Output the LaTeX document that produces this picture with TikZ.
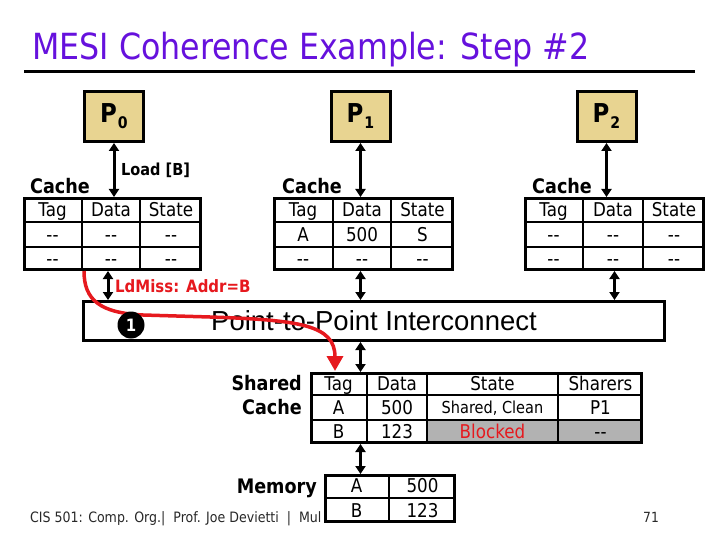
\documentclass[tikz,border=0pt]{standalone}
\usepackage{fontspec}
\setmainfont{DejaVu Sans}[FakeStretch=0.88]
\newfontfamily\arialfont{Liberation Sans}
\usetikzlibrary{arrows.meta,calc}
\definecolor{titlepurple}{RGB}{102,17,221}
\definecolor{ptan}{RGB}{232,212,145}
\definecolor{cellgray}{RGB}{178,178,178}
\definecolor{missred}{RGB}{230,25,30}
\definecolor{footgray}{RGB}{40,40,40}
\newcommand\fs[1]{\fontsize{#1}{#1}\selectfont}
\tikzset{
  procbox/.style={draw, line width=3pt, fill=ptan, minimum width=59pt, minimum height=50pt, inner sep=0pt},
  tblbox/.style={draw, line width=3pt, inner sep=0pt},
  gridline/.style={line width=2pt},
  cell/.style={anchor=base, inner sep=0pt, font=\fs{19}},
  boldlbl/.style={inner sep=0pt, font=\fs{20}\bfseries},
  dbl/.style={line width=3pt, {Triangle[width=10pt,length=8pt]}-{Triangle[width=10pt,length=8pt]}},
  missarrow/.style={line width=3.5pt, draw=missred, -{Triangle[width=16pt,length=15pt]}},
}
\begin{document}
\begin{tikzpicture}[x=1pt,y=-1pt]
\useasboundingbox[fill=white] (0,0) rectangle (720,540);

% title
\node[anchor=base west, inner sep=0pt, text=titlepurple, font=\fs{36}] (title) at (32,60) {MESI Coherence Example: Step \#2};
\draw[line width=3pt] (24,72) -- (695,72);

% processors
\node[procbox] (p0) at (114,116.5) {\fs{26}\bfseries P\kern1pt\raisebox{-6pt}{\fs{16}0}};
\node[procbox] (p1) at (360.5,116.5) {\fs{26}\bfseries P\kern1pt\raisebox{-6pt}{\fs{16}1}};
\node[procbox] (p2) at (606.5,116.5) {\fs{26}\bfseries P\kern1pt\raisebox{-6pt}{\fs{16}2}};

% cache tables
\node[tblbox, minimum width=176pt, minimum height=71pt] (c0) at (112.5,234) {};
\node[tblbox, minimum width=178pt, minimum height=71pt] (c1) at (363.5,234) {};
\node[tblbox, minimum width=178pt, minimum height=71pt] (c2) at (614.5,234) {};
\draw[gridline] (82,198) -- (82,270) (140,198) -- (140,270) (24,222) -- (201,222) (24,247) -- (201,247);
\draw[gridline] (333,198) -- (333,270) (391,198) -- (391,270) (275,222) -- (452,222) (275,247) -- (452,247);
\draw[gridline] (583,198) -- (583,270) (643,198) -- (643,270) (526,222) -- (703,222) (526,247) -- (703,247);

\node[boldlbl, anchor=base west] (cl0) at (30,194) {Cache};
\node[boldlbl, anchor=base west] (cl1) at (282,194) {Cache};
\node[boldlbl, anchor=base west] (cl2) at (532,194) {Cache};

\foreach \cx/\cy/\ct [count=\i] in {52.5/216.5/Tag, 111/216.5/Data, 171/216.5/State,
  52.5/241.5/{-{}-}, 111/241.5/{-{}-}, 171/241.5/{-{}-},
  52.5/265.5/{-{}-}, 111/265.5/{-{}-}, 171/265.5/{-{}-}}
  \node[cell] (c0t\i) at (\cx,\cy) {\ct};
\foreach \cx/\cy/\ct [count=\i] in {303/216.5/Tag, 362/216.5/Data, 422.5/216.5/State,
  303/241.5/A, 362/241.5/500, 422.5/241.5/S,
  303/265.5/{-{}-}, 362/265.5/{-{}-}, 422.5/265.5/{-{}-}}
  \node[cell] (c1t\i) at (\cx,\cy) {\ct};
\foreach \cx/\cy/\ct [count=\i] in {553.5/216.5/Tag, 613/216.5/Data, 674/216.5/State,
  553.5/241.5/{-{}-}, 613/241.5/{-{}-}, 674/241.5/{-{}-},
  553.5/265.5/{-{}-}, 613/265.5/{-{}-}, 674/265.5/{-{}-}}
  \node[cell] (c2t\i) at (\cx,\cy) {\ct};

% processor-cache arrows
\draw[dbl] (p0.south) -- (p0.south |- c0.north);
\draw[dbl] (p1.south) -- (p1.south |- c1.north);
\draw[dbl] (p2.south) -- (p2.south |- c2.north);
\node[anchor=base west, inner sep=0pt, font=\fs{16.5}\bfseries] (ld) at (121,176) {Load [B]};

% interconnect
\node[tblbox, minimum width=581pt, minimum height=39pt, font=\arialfont\fs{27.5}] (ic) at (374,321) {Point-to-Point Interconnect};
\draw[dbl] ([xshift=-6pt]p0.south |- c0.south) -- ([xshift=-6pt]p0.south |- ic.north);
\draw[dbl] (p1.south |- c1.south) -- (p1.south |- ic.north);
\draw[dbl] (c2.south) -- (c2.south |- ic.north);

\node[anchor=base west, inner sep=0pt, text=missred, font=\fs{17}\bfseries] (miss) at (115,292) {LdMiss: Addr=B};

% shared cache
\fill[cellgray] (427,420) rectangle (643,444);
\node[tblbox, minimum width=330pt, minimum height=69pt] (sc) at (476.5,408) {};
\draw[gridline] (367,373) -- (367,443) (427,373) -- (427,443) (558,373) -- (558,443)
  (311,395) -- (642,395) (311,420) -- (642,420);
\node[boldlbl, anchor=base east] (scl1) at (302,390) {Shared};
\node[boldlbl, anchor=base east] (scl2) at (302,414) {Cache};
\foreach \cx/\cy/\ct [count=\i] in {338.5/390/Tag, 397/390/Data, 492.5/390/State, 600.5/390/Sharers,
  338.5/414/A, 397/414/500, 600.5/414/P1,
  338.5/438.5/B, 397/438.5/123, 600.5/438.5/{-{}-}}
  \node[cell] (sct\i) at (\cx,\cy) {\ct};
\node[cell, font=\fs{16.5}] (sct11) at (492.5,413.5) {Shared, Clean};
\node[cell, text=missred] (sct12) at (492.5,438.5) {Blocked};
\draw[dbl] (p1.south |- ic.south) -- (p1.south |- sc.north);

% footer
\node[anchor=base west, inner sep=0pt, text=footgray, font=\fs{14.3}] (foot) at (30,522) {CIS 501: Comp. Org.| \ Prof. Joe Devietti \ | \ Mul};
\node[anchor=base, inner sep=0pt, text=footgray, font=\fs{14}] (pg) at (651,522) {71};

% memory
\node[tblbox, fill=white, minimum width=129pt, minimum height=46pt] (mem) at (390,498.5) {};
\draw[gridline] (389,475) -- (389,522) (325,498) -- (455,498);
\node[boldlbl, anchor=base east] (meml) at (317,493) {Memory};
\foreach \cx/\cy/\ct [count=\i] in {356.5/492.5/A, 422.5/492.5/500, 356.5/517/B, 422.5/517/123}
  \node[cell] (mt\i) at (\cx,\cy) {\ct};
\draw[dbl] (p1.south |- sc.south) -- (p1.south |- mem.north);

% miss path
\coordinate (rs) at (84,271);
\coordinate (re) at (335,371);
\draw[missarrow] (rs) .. controls (84,300) and (100,313) .. (143,315) -- (210,317) .. controls (300,320) and (335,325) .. (re);
\node[circle, fill=black, minimum size=27pt, inner sep=0pt, text=white, font=\fs{17}\bfseries] (one) at (131,325) {1};
\end{tikzpicture}
\end{document}
